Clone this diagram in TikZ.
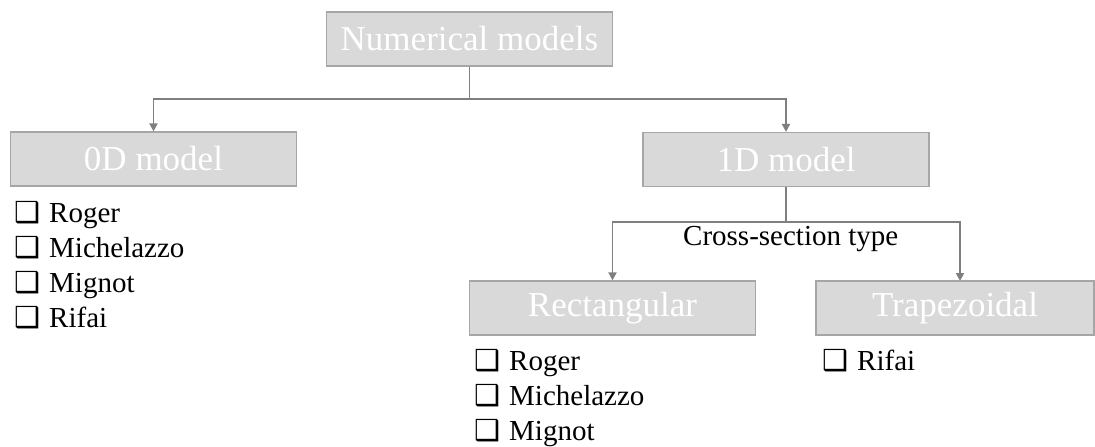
\documentclass[tikz,border=0pt]{standalone}
\usepackage{fontspec}
\setmainfont{Liberation Serif}
\newfontfamily\symfont{DejaVu Sans}
\usetikzlibrary{arrows.meta}
\definecolor{boxfill}{HTML}{D9D9D9}
\definecolor{boxline}{HTML}{A6A6A6}
\definecolor{conncol}{HTML}{7F7F7F}
\newcommand{\cbx}{{\symfont\fontsize{29}{29}\selectfont ❑}\hspace{9pt}}
\begin{document}
\begin{tikzpicture}[x=1pt,y=-1pt,
  modelbox/.style={draw=boxline,line width=1.2pt,fill=boxfill,minimum width=286pt,minimum height=54pt,inner sep=0pt,text=white,font=\fontsize{35}{40}\selectfont},
  conn/.style={draw=conncol,line width=1.8pt},
  arr/.style={conn,-{Triangle[width=8pt,length=8pt]}},
  item/.style={anchor=base west,inner sep=0pt,font=\fontsize{29}{34}\selectfont}]
\useasboundingbox (0,0) rectangle (1095,447);
\node[modelbox] (num) at (469.5,39) {Numerical models};
\node[modelbox] (zero) at (153.5,159) {0D model};
\node[modelbox] (one) at (786,159.5) {1D model};
\node[modelbox] (rect) at (612.5,308) {Rectangular};
\node[modelbox,minimum width=278pt] (trap) at (955,308) {Trapezoidal};
% connectors
\draw[conn] (num.south) -- (469.5,99) coordinate (j1);
\draw[arr] (j1) -| (zero.north);
\draw[arr] (j1) -| (one.north);
\draw[conn] (one.south) -- (786,222) coordinate (j2);
\coordinate (ttop) at (960,281);
\draw[arr] (j2) -| (rect.north);
\draw[arr] (j2) -| (ttop);
\node[item] (cst) at (683,245) {Cross-section type};
% lists
\node[item] (z1) at (14,222) {\cbx Roger};
\node[item] (z2) at (14,257) {\cbx Michelazzo};
\node[item] (z3) at (14,292) {\cbx Mignot};
\node[item] (z4) at (14,327) {\cbx Rifai};
\node[item] (r1) at (474,370) {\cbx Roger};
\node[item] (r2) at (474,405) {\cbx Michelazzo};
\node[item] (r3) at (474,440) {\cbx Mignot};
\node[item] (t1) at (822,370) {\cbx Rifai};
\end{tikzpicture}
\end{document}
